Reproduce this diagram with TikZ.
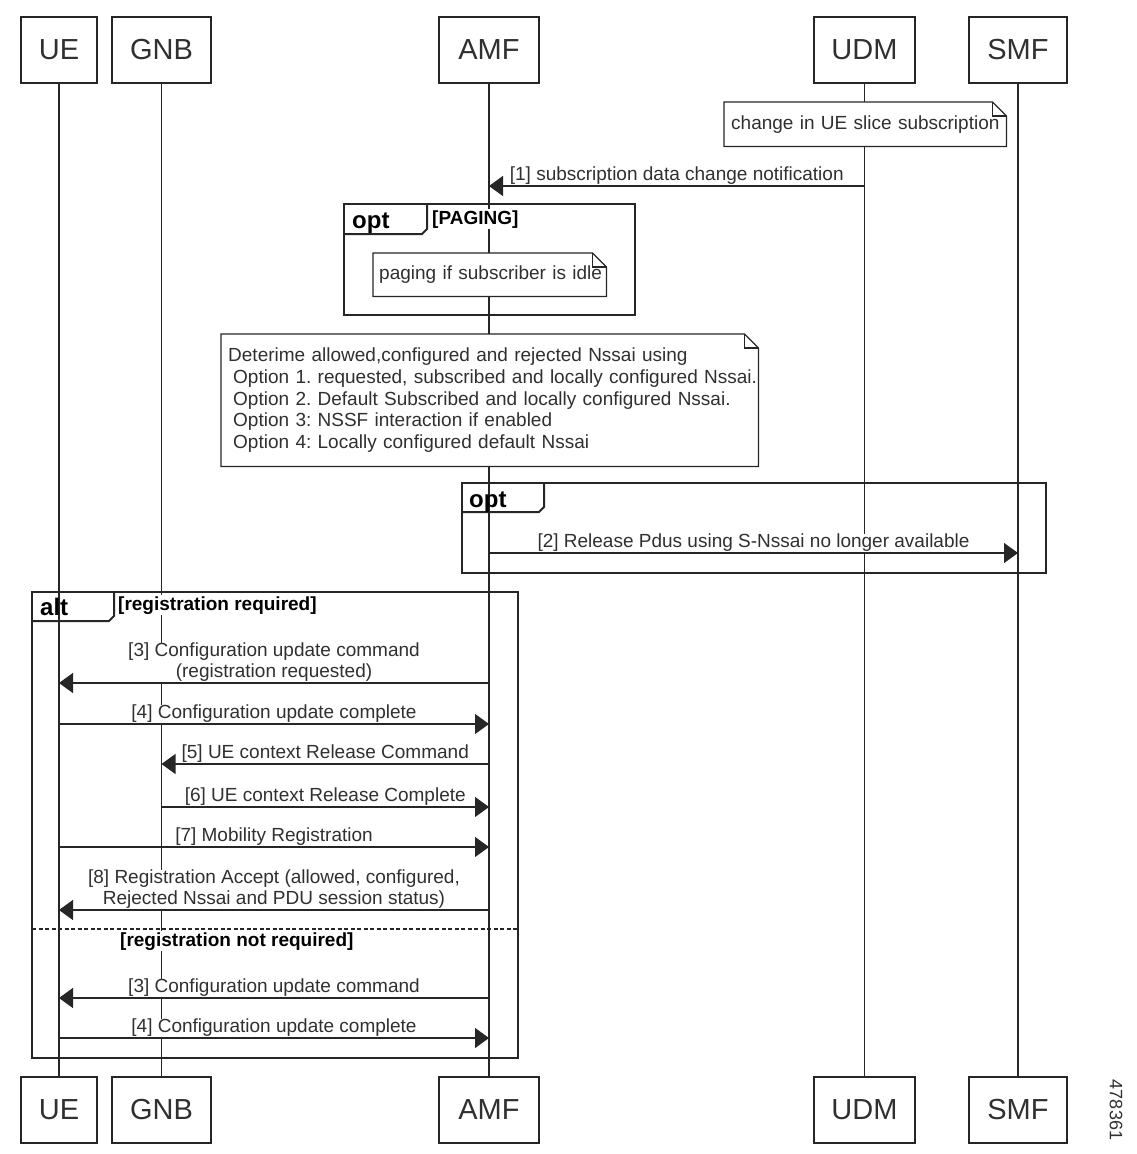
\documentclass[tikz,border=0pt]{standalone}
\usepackage{fontspec}
\setmainfont{Liberation Sans}
\usetikzlibrary{arrows.meta,positioning}
\frenchspacing

\definecolor{ink}{HTML}{262626}
\definecolor{txt}{HTML}{303030}

\tikzset{
  actor/.style={draw=ink, line width=1.3pt, minimum height=66pt, inner sep=0pt,
    font=\fontsize{29}{30}\selectfont, text=txt},
  life/.style={draw=ink, line width=1.2pt},
  msg/.style={draw=ink, line width=1.2pt, -{Triangle[length=14pt,width=20pt]}},
  lbl/.style={above, fill=white, inner sep=0.5pt, align=center,
    font=\fontsize{19}{21}\selectfont, text=txt},
  frame/.style={draw=ink, line width=2pt},
  ftag/.style={anchor=base west, inner sep=0pt, font=\bfseries\fontsize{24}{26}\selectfont},
  guard/.style={anchor=base west, inner sep=1pt, fill=white, font=\bfseries\fontsize{19}{21}\selectfont},
  notebox/.style={fill=white, inner ysep=0pt, align=left, anchor=north west,
    font=\fontsize{19}{21.7}\selectfont, text=txt},
  noteline/.style={draw=ink, line width=1.2pt},
}

% outline of a note with a folded corner
\newcommand{\notefold}[1]{%
  \draw[noteline] (#1.south west) -- (#1.south east) -- ([yshift=-14pt]#1.north east)
    -- ([xshift=-14pt]#1.north east) -- (#1.north west) -- cycle;
  \draw[noteline] ([xshift=-14pt]#1.north east) |- ([yshift=-14pt]#1.north east);
}

\begin{document}
\begin{tikzpicture}[x=1pt,y=-1pt]
  \useasboundingbox (0,0) rectangle (1136,1154);

  % participants and lifelines
  \foreach \name/\txt/\x/\w in {ue/UE/59/76, gnb/GNB/161.5/99, amf/AMF/489/100,
                                 udm/UDM/864.5/101, smf/SMF/1018/98} {
    \node[actor, minimum width=\w] (\name) at (\x,50) {\txt};
    \node[actor, minimum width=\w] (\name-b) at (\x,1110) {\txt};
    \draw[life] (\name) -- (\name-b);
  }

  % points on the lifelines, one row per message
  \foreach \n/\y in {1/186, 2/553, 3/683, 4/724, 5/764, 6/807, 7/847, 8/910, 9/998, 10/1038} {
    \foreach \p in {ue,gnb,amf,udm,smf} {
      \coordinate (\p\n) at (\p |- 0,\y);
    }
  }

  % notes
  \node[notebox, text width=268pt, inner xsep=7pt, minimum height=44pt] (subnote) at (724,102)
    {\mbox{change in UE slice subscription}};
  \notefold{subnote}
  \node[notebox, text width=221pt, inner xsep=6pt, minimum height=43pt] (pagenote) at (373,253)
    {\mbox{paging if subscriber is idle}};
  \notefold{pagenote}
  \node[notebox, text width=523pt, inner xsep=7pt, minimum height=132pt] (nssainote) at (221,334)
    {\mbox{Deterime allowed,configured and rejected Nssai using}\\
     \mbox{\hspace*{5pt}Option 1. requested, subscribed and locally configured Nssai.}\\
     \mbox{\hspace*{5pt}Option 2. Default Subscribed and locally configured Nssai.}\\
     \mbox{\hspace*{5pt}Option 3: NSSF interaction if enabled}\\
     \mbox{\hspace*{5pt}Option 4: Locally configured default Nssai}};
  \notefold{nssainote}

  % opt [PAGING]
  \draw[frame] (344,204) rectangle (635,315);
  \draw[frame] (344,234) -- (422,234) -- (427,229) -- (427,204);
  \node[ftag] (opt1) at (352,228) {opt};
  \node[guard] (paging) at (431,224) {[PAGING]};

  % opt release
  \draw[frame] (462,483) rectangle (1046,573);
  \draw[frame] (462,512) -- (539,512) -- (544,507) -- (544,483);
  \node[ftag] (opt2) at (469,507) {opt};

  % alt registration
  \draw[frame] (32,592) rectangle (518,1058);
  \draw[frame] (32,621) -- (109,621) -- (114,616) -- (114,592);
  \node[ftag] (alt) at (40,615) {alt};
  \node[guard] (regreq) at (117,610) {[registration required]};
  \draw[frame, dash pattern=on 4pt off 2.5pt] (32,929) -- (518,929);
  \node[guard] (regnot) at (119,946) {[registration not required]};

  % messages
  \draw[msg] (udm1) -- node[lbl]{[1] subscription data change notification} (amf1);
  \draw[msg] (amf2) -- node[lbl]{[2] Release Pdus using S-Nssai no longer available} (smf2);
  \draw[msg] (amf3) -- node[lbl]{[3] Configuration update command\\(registration requested)} (ue3);
  \draw[msg] (ue4) -- node[lbl]{[4] Configuration update complete} (amf4);
  \draw[msg] (amf5) -- node[lbl]{[5] UE context Release Command} (gnb5);
  \draw[msg] (gnb6) -- node[lbl]{[6] UE context Release Complete} (amf6);
  \draw[msg] (ue7) -- node[lbl]{[7] Mobility Registration} (amf7);
  \draw[msg] (amf8) -- node[lbl]{[8] Registration Accept (allowed, configured,\\Rejected Nssai and PDU session status)} (ue8);
  \draw[msg] (amf9) -- node[lbl]{[3] Configuration update command} (ue9);
  \draw[msg] (ue10) -- node[lbl]{[4] Configuration update complete} (amf10);

  \node[rotate=-90, text=txt, font=\fontsize{18}{18}\selectfont] (fignum) at (1116,1110) {478361};
\end{tikzpicture}
\end{document}
